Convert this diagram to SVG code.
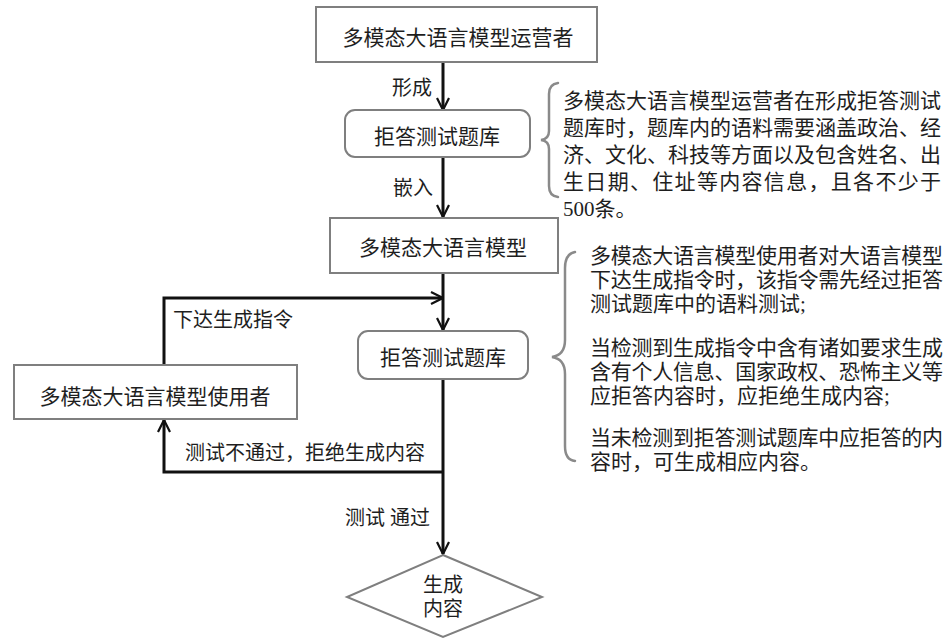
<svg xmlns="http://www.w3.org/2000/svg" width="951" height="642" viewBox="0 0 951 642">
<style>
  .box { fill: #ffffff; stroke: #7f7f7f; stroke-width: 2; }
  .t { font-family: "Liberation Serif", "Noto Sans CJK SC", serif; fill: #1e1e1e; }
  .node { font-size: 21px; text-anchor: middle; }
  .lbl { font-size: 20px; }
  .note { font-size: 21px; }
  .conn { fill: none; stroke: #111111; stroke-width: 3; }
  .brace { fill: none; stroke: #8a8a8a; stroke-width: 2.5; stroke-linecap: round; }
</style>
<defs>
  <marker id="arr" viewBox="0 0 14 14" refX="13" refY="7" markerWidth="14" markerHeight="14" markerUnits="userSpaceOnUse" orient="auto">
    <path d="M1,1 L13,7 L1,13" fill="none" stroke="#111111" stroke-width="2.2"/>
  </marker>
</defs>
<rect width="951" height="642" fill="#ffffff"/>

<g id="connectors">
  <path class="conn" d="M443 62 V110" marker-end="url(#arr)"/>
  <path class="conn" d="M443 157 V217" marker-end="url(#arr)"/>
  <path class="conn" d="M443 273 V330" marker-end="url(#arr)"/>
  <path class="conn" d="M164 365 V298 H443" marker-end="url(#arr)"/>
  <path class="conn" d="M443 379 V554" marker-end="url(#arr)"/>
  <path class="conn" d="M443 472 H164 V420" marker-end="url(#arr)"/>
  <text class="t lbl" x="392" y="95">形成</text>
  <text class="t lbl" x="393" y="195">嵌入</text>
  <text class="t lbl" x="173" y="327">下达生成指令</text>
  <text class="t lbl" x="185" y="460">测试不通过，拒绝生成内容</text>
  <text class="t lbl" x="345" y="525">测试 通过</text>
</g>

<g id="operator">
  <rect class="box" x="316" y="7" width="281" height="55"/>
  <text class="t node" x="458" y="45">多模态大语言模型运营者</text>
</g>

<g id="testbank1">
  <rect class="box" x="345" y="110" width="185" height="47" rx="10" ry="10"/>
  <text class="t node" x="437" y="144">拒答测试题库</text>
</g>

<g id="model">
  <rect class="box" x="330" y="218" width="228" height="55"/>
  <text class="t node" x="443" y="255">多模态大语言模型</text>
</g>

<g id="testbank2">
  <rect class="box" x="358" y="331" width="170" height="48" rx="10" ry="10"/>
  <text class="t node" x="443" y="365">拒答测试题库</text>
</g>

<g id="user">
  <rect class="box" x="14" y="365" width="283" height="54"/>
  <text class="t node" x="155" y="404">多模态大语言模型使用者</text>
</g>

<g id="output">
  <polygon class="box" points="443,555 542,597 443,637 347,597"/>
  <text class="t node" x="443" y="592" style="font-size:20px">生成</text>
  <text class="t node" x="443" y="616" style="font-size:20px">内容</text>
</g>

<g id="note1">
  <path class="brace" d="M558 83 Q549 84 549 94 L549 131 Q549 139 541 140 Q549 141 549 149 L549 186 Q549 196 558 197"/>
  <text class="t note" x="563" y="108" textLength="378" lengthAdjust="spacing">多模态大语言模型运营者在形成拒答测试</text>
  <text class="t note" x="563" y="135" textLength="378" lengthAdjust="spacing">题库时，题库内的语料需要涵盖政治、经</text>
  <text class="t note" x="563" y="162" textLength="378" lengthAdjust="spacing">济、文化、科技等方面以及包含姓名、出</text>
  <text class="t note" x="563" y="189" textLength="378" lengthAdjust="spacing">生日期、住址等内容信息，且各不少于</text>
  <text class="t note" x="563" y="216">500条。</text>
</g>

<g id="note2">
  <path class="brace" d="M575 252 Q565 254 565 268 L565 340 Q565 355 552 357 Q565 359 565 374 L565 446 Q565 460 575 461"/>
  <text class="t note" x="590" y="263" textLength="353" lengthAdjust="spacing">多模态大语言模型使用者对大语言模型</text>
  <text class="t note" x="590" y="287" textLength="353" lengthAdjust="spacing">下达生成指令时，该指令需先经过拒答</text>
  <text class="t note" x="590" y="311">测试题库中的语料测试;</text>
  <text class="t note" x="590" y="355" textLength="353" lengthAdjust="spacing">当检测到生成指令中含有诸如要求生成</text>
  <text class="t note" x="590" y="379" textLength="353" lengthAdjust="spacing">含有个人信息、国家政权、恐怖主义等</text>
  <text class="t note" x="590" y="403">应拒答内容时，应拒绝生成内容;</text>
  <text class="t note" x="590" y="445" textLength="353" lengthAdjust="spacing">当未检测到拒答测试题库中应拒答的内</text>
  <text class="t note" x="590" y="469">容时，可生成相应内容。</text>
</g>
</svg>
